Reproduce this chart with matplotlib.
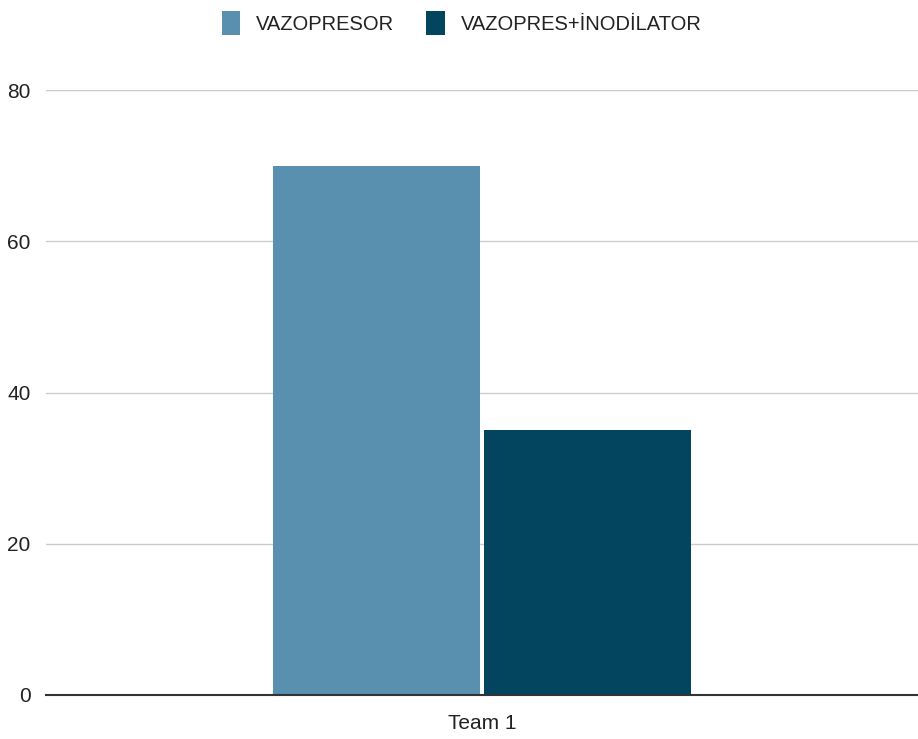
import matplotlib.pyplot as plt
import numpy as np

# Chart data
categories = ['Team 1']
series_names = ['VAZOPRESOR', 'VAZOPRES+İNODİLATOR']
series_values = [[70], [35]]
y_ticks = [0, 20, 40, 60, 80]

colors = ['#5a90af', '#03455f']

plt.rcParams['font.family'] = ['Liberation Sans', 'DejaVu Sans']

fig = plt.figure(figsize=(9.18, 7.39), dpi=100)
ax = fig.add_axes([46 / 918, 44 / 739, 872 / 918, 605 / 739])

x = np.arange(len(categories))
width = 0.237
offsets = [-0.121, 0.121]
for i, name in enumerate(series_names):
    ax.bar(x + offsets[i], series_values[i], width=width, color=colors[i],
           label=name, zorder=3)

ax.set_xlim(-0.5, len(categories) - 0.5)
ax.set_ylim(0, 80)
ax.set_yticks(y_ticks)
ax.set_xticks(x)
ax.set_xticklabels(categories)
ax.tick_params(axis='both', length=0, labelsize=15, labelcolor='#222222')
ax.tick_params(axis='y', pad=11)
ax.tick_params(axis='x', pad=14)

ax.grid(axis='y', color='#cccccc', linewidth=1, zorder=0)
for side in ['top', 'right', 'left']:
    ax.spines[side].set_visible(False)
ax.spines['bottom'].set_color('#333333')
ax.spines['bottom'].set_linewidth(1.5)
ax.spines['bottom'].set_zorder(4)

fig.legend(loc='upper center', bbox_to_anchor=(0.503, 1.01), ncol=2, frameon=False,
           fontsize=14.5, handlelength=0.9, handleheight=1.5, columnspacing=1.6,
           handletextpad=0.8, labelcolor='#222222')

fig.savefig('out.png', dpi=100)
